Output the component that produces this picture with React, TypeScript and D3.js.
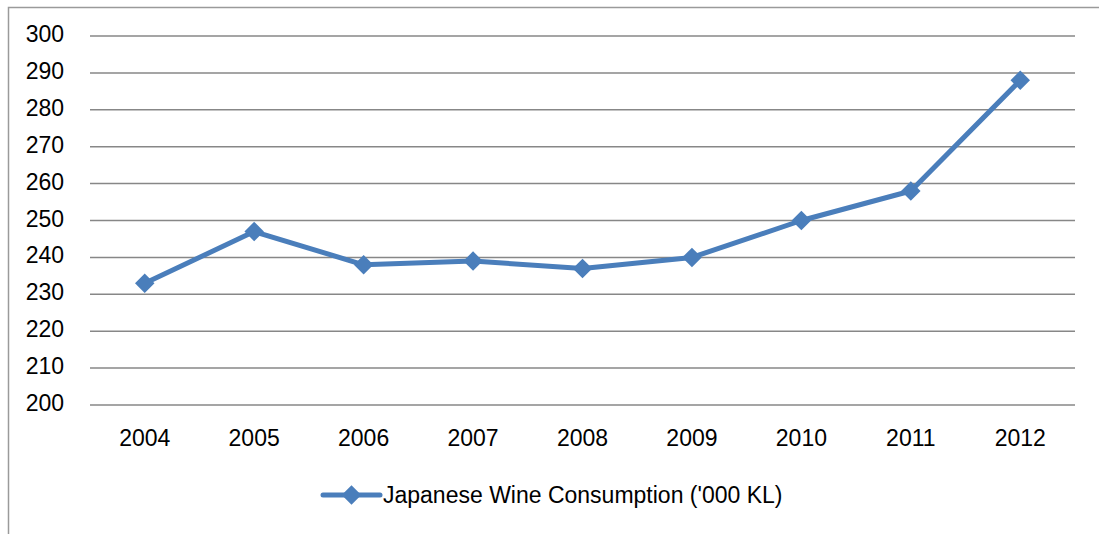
import { useEffect, useRef } from "react";
import * as d3 from "d3";

const years = ["2004", "2005", "2006", "2007", "2008", "2009", "2010", "2011", "2012"];
const consumption = [233, 247, 238, 239, 237, 240, 250, 258, 288];
const yTicks = [200, 210, 220, 230, 240, 250, 260, 270, 280, 290, 300];
const seriesName = "Japanese Wine Consumption ('000 KL)";

export default function App() {
  const svgRef = useRef<SVGSVGElement>(null);

  useEffect(() => {
    if (!svgRef.current) return;
    const svg = d3.select(svgRef.current);
    svg.selectAll("*").remove();

    const width = 1099;
    const height = 534;
    const margin = { top: 36, right: 24, bottom: 129, left: 90 };
    const color = "#4A7EBB";
    const font = "'Liberation Sans', Arial, sans-serif";
    const fontSize = 23;

    svg.attr("width", width).attr("height", height).style("display", "block");

    // chart border
    svg
      .append("rect")
      .attr("x", 8.5)
      .attr("y", 7.5)
      .attr("width", width)
      .attr("height", height)
      .attr("fill", "#fff")
      .attr("stroke", "#9a9a9a")
      .attr("stroke-width", 1.5);

    const x = d3
      .scaleBand()
      .domain(years)
      .range([margin.left, width - margin.right]);
    const y = d3
      .scaleLinear()
      .domain([200, 300])
      .range([height - margin.bottom, margin.top]);

    // gridlines
    svg
      .append("g")
      .selectAll("line")
      .data(yTicks)
      .enter()
      .append("line")
      .attr("x1", margin.left)
      .attr("x2", width - margin.right)
      .attr("y1", (d) => y(d))
      .attr("y2", (d) => y(d))
      .attr("stroke", "#878787")
      .attr("stroke-width", 1.5);

    // y labels
    svg
      .append("g")
      .selectAll("text")
      .data(yTicks)
      .enter()
      .append("text")
      .attr("x", 64)
      .attr("y", (d) => y(d) - 2)
      .attr("dy", "0.35em")
      .attr("text-anchor", "end")
      .attr("font-family", font)
      .attr("font-size", fontSize)
      .attr("fill", "#000")
      .text((d) => d);

    // x labels
    svg
      .append("g")
      .selectAll("text")
      .data(years)
      .enter()
      .append("text")
      .attr("x", (d) => x(d)! + x.bandwidth() / 2)
      .attr("y", y(200) + 33)
      .attr("dy", "0.35em")
      .attr("text-anchor", "middle")
      .attr("font-family", font)
      .attr("font-size", fontSize)
      .attr("fill", "#000")
      .text((d) => d);

    const line = d3
      .line<number>()
      .x((_, i) => x(years[i])! + x.bandwidth() / 2)
      .y((d) => y(d));

    svg
      .append("path")
      .datum(consumption)
      .attr("d", line)
      .attr("fill", "none")
      .attr("stroke", color)
      .attr("stroke-width", 5)
      .attr("stroke-linejoin", "round");

    const diamond = d3.symbol().type(d3.symbolSquare).size(190);

    svg
      .append("g")
      .selectAll("path")
      .data(consumption)
      .enter()
      .append("path")
      .attr("d", diamond)
      .attr(
        "transform",
        (d, i) => `translate(${x(years[i])! + x.bandwidth() / 2}, ${y(d)}) rotate(45)`
      )
      .attr("fill", color);

    // legend
    const legendY = 495;
    const legend = svg.append("g");
    legend
      .append("line")
      .attr("x1", 323)
      .attr("x2", 380)
      .attr("y1", legendY)
      .attr("y2", legendY)
      .attr("stroke", color)
      .attr("stroke-width", 5)
      .attr("stroke-linecap", "round");
    legend
      .append("path")
      .attr("d", diamond)
      .attr("transform", `translate(351.5, ${legendY}) rotate(45)`)
      .attr("fill", color);
    legend
      .append("text")
      .attr("x", 383)
      .attr("y", legendY)
      .attr("dy", "0.35em")
      .attr("font-family", font)
      .attr("font-size", fontSize)
      .attr("fill", "#000")
      .text(seriesName);
  }, []);

  return <svg ref={svgRef} style={{ position: "absolute", left: 0, top: 0 }}></svg>;
}
